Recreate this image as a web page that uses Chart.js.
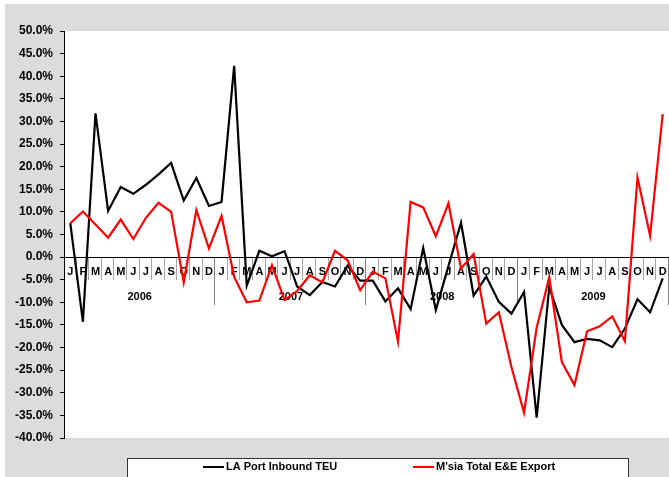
<!DOCTYPE html>
<html>
<head>
<meta charset="utf-8">
<script src="https://cdn.jsdelivr.net/npm/chart.js@4/dist/chart.umd.min.js"></script>
<style>
  html, body { margin: 0; padding: 0; background: #ffffff; }
  canvas { display: block; }
</style>
</head>
<body>
<canvas id="chart" width="669" height="477"></canvas>
<script>
// Month initials and year groups along the category axis
const months = ['J', 'F', 'M', 'A', 'M', 'J', 'J', 'A', 'S', 'O', 'N', 'D'];
const years = ['2006', '2007', '2008', '2009'];

// Year-on-year growth, % (Jan 2006 – Dec 2009)
const laPortTEU = [
  7.5, -14.3, 31.8, 10.2, 15.5, 14.0, 16.0, 18.3, 20.8, 12.5, 17.5, 11.3,
  12.2, 42.3, -6.3, 1.4, 0.2, 1.3, -6.5, -8.4, -5.5, -6.5, -1.9, -5.2,
  -5.2, -9.8, -6.9, -11.5, 2.0, -11.7, -2.0, 7.6, -8.5, -4.3, -9.9, -12.5,
  -7.7, -35.5, -6.6, -15.0, -18.8, -18.1, -18.4, -19.9, -15.8, -9.3, -12.2, -4.7
];
const msiaEE = [
  7.5, 10.1, 7.2, 4.3, 8.3, 4.0, 8.7, 12.0, 10.0, -5.6, 10.4, 1.9,
  9.1, -4.4, -10.0, -9.6, -1.8, -9.5, -7.5, -4.0, -5.6, 1.4, -0.7, -7.3,
  -3.2, -4.7, -18.7, 12.2, 11.0, 4.6, 11.9, -2.5, 0.7, -14.7, -12.2, -24.3,
  -34.4, -15.6, -4.5, -23.2, -28.3, -16.4, -15.3, -13.1, -18.6, 17.6, 4.7, 31.6
];

// Value axis range
const yMin = -40;
const yMax = 50;
const yStep = 5;

const seriesNames = ['LA Port Inbound TEU', "M'sia Total E&E Export"];
const seriesColors = ['#000000', '#ff0000'];

const monthLabels = years.flatMap(() => months);
const FONT = '"Liberation Sans", Arial, Helvetica, sans-serif';

// Panel background, month/year separators, year captions and legend box
const framePlugin = {
  id: 'frame',
  beforeDraw(chart) {
    const { ctx, chartArea: a, width, height } = chart;
    ctx.save();
    ctx.fillStyle = '#ffffff';
    ctx.fillRect(0, 0, width, height);
    ctx.fillStyle = '#dcdcdc';
    ctx.fillRect(5, 4, width - 5, height - 4);
    ctx.fillStyle = '#ffffff';
    ctx.fillRect(a.left, a.top, a.right - a.left, a.bottom - a.top);
    ctx.restore();
  },
  beforeDatasetsDraw(chart) {
    const { ctx, scales } = chart;
    const x = scales.x, y = scales.y;
    const y0 = Math.round(y.getPixelForValue(0));
    const n = monthLabels.length;
    const half = (x.getPixelForValue(1) - x.getPixelForValue(0)) / 2;
    ctx.save();
    ctx.lineWidth = 1;
    for (let i = 1; i <= n; i++) {
      const bx = Math.round(x.getPixelForValue(i - 1) + half) - 0.5;
      const isYear = i % months.length === 0;
      ctx.strokeStyle = isYear ? '#808080' : '#a6a6a6';
      ctx.beginPath();
      ctx.moveTo(bx, y0 + 1);
      ctx.lineTo(bx, y0 + (isYear ? 48 : 23));
      ctx.stroke();
    }
    ctx.fillStyle = '#000000';
    ctx.font = 'bold 11px ' + FONT;
    ctx.textAlign = 'center';
    ctx.textBaseline = 'middle';
    years.forEach((yr, k) => {
      const first = x.getPixelForValue(k * months.length);
      const last = x.getPixelForValue(k * months.length + months.length - 1);
      ctx.fillText(yr, (first + last) / 2, y0 + 40);
    });
    ctx.restore();
  },
  afterDraw(chart) {
    const { ctx } = chart;
    ctx.save();
    ctx.fillStyle = '#ffffff';
    ctx.strokeStyle = '#333333';
    ctx.lineWidth = 1;
    ctx.fillRect(127.5, 458.5, 501, 30);
    ctx.strokeRect(127.5, 458.5, 501, 30);
    ctx.font = 'bold 11px ' + FONT;
    ctx.textAlign = 'left';
    ctx.textBaseline = 'middle';
    const ly = 467;
    const starts = [203, 413];
    chart.data.datasets.forEach((ds, i) => {
      const sx = starts[i];
      ctx.strokeStyle = ds.borderColor;
      ctx.lineWidth = 2;
      ctx.beginPath();
      ctx.moveTo(sx, ly);
      ctx.lineTo(sx + 21, ly);
      ctx.stroke();
      ctx.fillStyle = '#000000';
      ctx.fillText(ds.label, sx + 23, ly);
    });
    ctx.restore();
  }
};

new Chart(document.getElementById('chart'), {
  type: 'line',
  data: {
    labels: monthLabels,
    datasets: [
      {
        label: seriesNames[0],
        data: laPortTEU,
        borderColor: seriesColors[0],
        borderWidth: 2.2,
        pointRadius: 0,
        tension: 0,
        fill: false,
        order: 1
      },
      {
        label: seriesNames[1],
        data: msiaEE,
        borderColor: seriesColors[1],
        borderWidth: 2.2,
        pointRadius: 0,
        tension: 0,
        fill: false,
        order: 0
      }
    ]
  },
  options: {
    responsive: false,
    animation: false,
    layout: { padding: { top: 31, right: 0, bottom: 39, left: 0 } },
    plugins: {
      legend: { display: false },
      tooltip: { enabled: false }
    },
    scales: {
      x: {
        type: 'category',
        offset: true,
        position: { y: 0 },
        border: { display: true, color: '#000000', width: 1 },
        grid: { display: true, drawOnChartArea: false, drawTicks: true, tickLength: 8, color: 'rgba(0,0,0,0)' },
        ticks: {
          autoSkip: false,
          maxRotation: 0,
          minRotation: 0,
          padding: 0,
          color: '#000000',
          font: { family: FONT, size: 11, weight: 'bold' }
        }
      },
      y: {
        position: 'left',
        min: yMin,
        max: yMax,
        afterFit(scale) { scale.width = 64; },
        border: { display: true, color: '#000000', width: 1 },
        grid: { drawOnChartArea: false, drawTicks: true, tickLength: 4, color: '#000000' },
        ticks: {
          stepSize: yStep,
          padding: 7,
          color: '#000000',
          font: { family: FONT, size: 12, weight: 'bold' },
          callback: v => v.toFixed(1) + '%'
        }
      }
    }
  },
  plugins: [framePlugin]
});
</script>
</body>
</html>
